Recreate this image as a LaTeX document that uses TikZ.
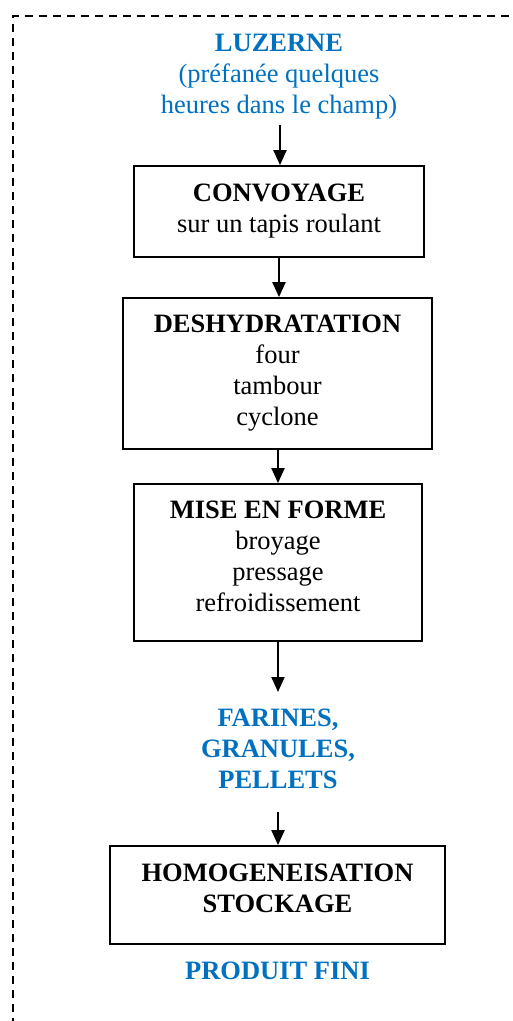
\documentclass[tikz,border=0pt]{standalone}
\usepackage{fontspec}
\setmainfont{Liberation Serif}
\usetikzlibrary{arrows.meta}
\definecolor{stepblue}{RGB}{0,112,192}

\begin{document}
\begin{tikzpicture}[x=1pt,y=-1pt,
  stagebox/.style={draw=black, line width=1.8pt, inner sep=0pt, anchor=center},
  body/.style={align=center, inner sep=0pt, anchor=base,
    font=\fontsize{26.5}{31}\selectfont},
  bluetext/.style={body, text=stepblue},
  flow/.style={-{Triangle[length=15pt,width=13pt]}, line width=2.1pt},
]
\useasboundingbox (0,0) rectangle (512,1021);

% dashed frame (runs off the page on the right and at the bottom)
\draw[dash pattern=on 8pt off 6pt, line width=2pt] (13,1040) -- (13,16) -- (540,16);

% input product (base anchor = baseline of the last line)
\node[bluetext] (input) at (279,113) {\textbf{LUZERNE}\\(préfanée quelques\\heures dans le champ)};

% process stages
\node[stagebox, minimum width=290pt, minimum height=91pt] (conv) at (279,211.5) {};
\node[body] (convtxt) at (279,232) {\textbf{CONVOYAGE}\\sur un tapis roulant};

\node[stagebox, minimum width=309pt, minimum height=151pt] (desh) at (277.5,373.5) {};
\node[body] (deshtxt) at (277.5,425.5) {\textbf{DESHYDRATATION}\\four\\tambour\\cyclone};

\node[stagebox, minimum width=288pt, minimum height=157pt] (mise) at (278,562.5) {};
\node[body] (misetxt) at (278,611.5) {\textbf{MISE EN FORME}\\broyage\\pressage\\refroidissement};

\node[bluetext] (farines) at (278,788) {\textbf{FARINES,}\\\textbf{GRANULES,}\\\textbf{PELLETS}};

\node[stagebox, minimum width=335pt, minimum height=98pt] (homo) at (277.5,895) {};
\node[body] (homotxt) at (277.5,912.5) {\textbf{HOMOGENEISATION}\\\textbf{STOCKAGE}};

\node[bluetext] (fini) at (277.5,979) {\textbf{PRODUIT FINI}};

% connectors
\coordinate (a1) at (280,125);
\coordinate (a5) at (278,812);
\draw[flow] (a1) -- (a1 |- conv.north);
\draw[flow] (conv.south -| 279,0) -- (desh.north -| 279,0);
\draw[flow] (desh.south -| 278,0) -- (mise.north -| 278,0);
\draw[flow] (mise.south) -- (278,692);
\draw[flow] (a5) -- (a5 |- homo.north);
\end{tikzpicture}
\end{document}
